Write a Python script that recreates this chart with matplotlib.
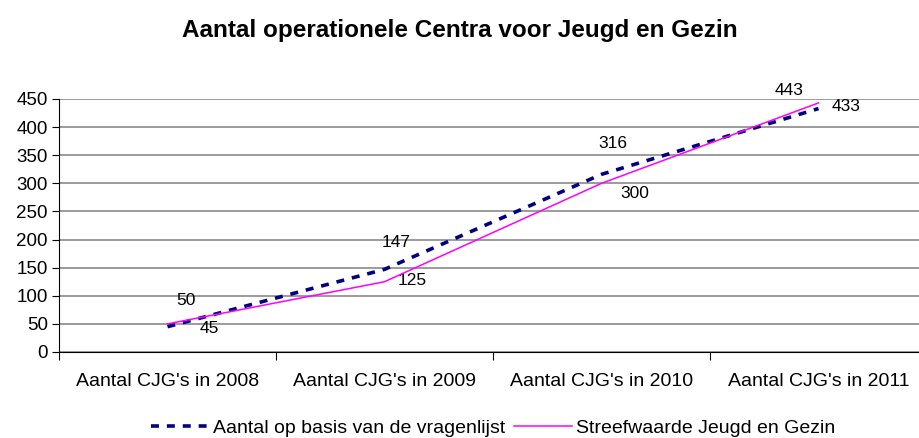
import matplotlib.pyplot as plt
import numpy as np

plt.rcParams['font.family'] = ['Liberation Sans', 'DejaVu Sans']

categories = ["Aantal CJG's in 2008", "Aantal CJG's in 2009",
              "Aantal CJG's in 2010", "Aantal CJG's in 2011"]
vragenlijst = [45, 147, 316, 433]
streefwaarde = [50, 125, 300, 443]
series_names = ["Aantal op basis van de vragenlijst", "Streefwaarde Jeugd en Gezin"]

# label offsets in pixels (dx, dy)
off_vragen = [(42, -2), (12, 27), (11, 31), (28, 2)]
off_streef = [(18, 23), (28, 1), (33, -10), (-29, 12)]

fig = plt.figure(figsize=(9.19, 4.38), dpi=100)
ax = fig.add_axes([59 / 919, 1 - 352 / 438, 868 / 919, 253 / 438])

x = np.arange(len(categories))
ax.plot(x, vragenlijst, color='#000080', lw=2.6, linestyle=(0, (2.2, 2.2)),
        label=series_names[0], zorder=3)
ax.plot(x, streefwaarde, color='#FF00FF', lw=1.1, label=series_names[1], zorder=4)

for xi, v, o in zip(x, vragenlijst, off_vragen):
    ax.annotate(str(v), (xi, v), xytext=o, textcoords='offset pixels',
                ha='center', va='center', fontsize=12.5)
for xi, v, o in zip(x, streefwaarde, off_streef):
    ax.annotate(str(v), (xi, v), xytext=o, textcoords='offset pixels',
                ha='center', va='center', fontsize=12.5)

ax.set_xlim(-0.5, 3.5)
ax.set_ylim(0, 450)
ax.set_yticks(np.arange(0, 451, 50))
ax.yaxis.grid(True, color='#808080', lw=1.1)
ax.set_axisbelow(True)
ax.set_xticks(np.arange(-0.5, 3.6, 1))
ax.set_xticklabels([])
ax.set_xticks(x, minor=True)
ax.set_xticklabels(categories, minor=True, fontsize=14)
ax.tick_params(axis='x', which='minor', length=0, pad=15)
ax.tick_params(axis='x', which='major', length=6, direction='out', color='black')
ax.tick_params(axis='y', length=5, labelsize=13.5, pad=3)
for s in ['top', 'right']:
    ax.spines[s].set_visible(False)
ax.spines['left'].set_color('black')
ax.spines['bottom'].set_color('black')

fig.text(0.5, 1 - 30 / 438, "Aantal operationele Centra voor Jeugd en Gezin",
         ha='center', va='center', fontsize=17.5, fontweight='bold')

fig.legend(loc='center', bbox_to_anchor=(493 / 919, 1 - 428 / 438), ncol=2,
           frameon=False, fontsize=14, handlelength=3.0, handletextpad=0.2,
           columnspacing=0.45)

fig.savefig('out.png', dpi=100)
